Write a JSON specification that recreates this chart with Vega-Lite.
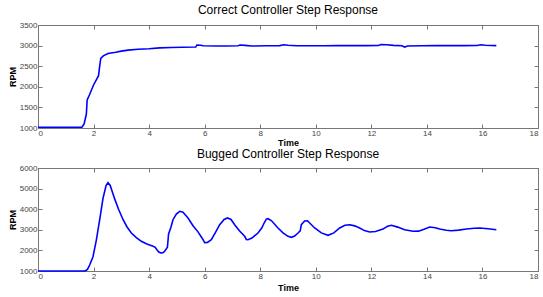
{
  "$schema": "https://vega.github.io/schema/vega-lite/v6.json",
  "padding": {"left": 7, "top": 3, "right": 5, "bottom": 3},
  "background": "white",
  "bounds": "flush",
  "spacing": 40,
  "config": {
    "view": {"stroke": "#777777", "strokeWidth": 1},
    "axis": {"labelFont": "Liberation Sans", "labelFontSize": 8, "labelColor": "#444444", "tickColor": "#777777", "tickSize": -4, "labelPadding": 5, "domain": false, "grid": false, "titleFont": "Liberation Sans", "titleFontSize": 9, "titleFontWeight": "bold", "titleColor": "#000000", "format": "d"},
    "title": {"font": "Liberation Sans", "fontSize": 12, "fontWeight": "normal", "color": "#000000", "offset": 4}
  },
  "datasets": {
    "correct": [
      {"t": 0, "rpm": 1020}, {"t": 1.58, "rpm": 1020}, {"t": 1.66, "rpm": 1100}, {"t": 1.74, "rpm": 1333}, {"t": 1.77, "rpm": 1680}, {"t": 1.85, "rpm": 1800}, {"t": 2.0, "rpm": 2044}, {"t": 2.18, "rpm": 2270}, {"t": 2.22, "rpm": 2500}, {"t": 2.26, "rpm": 2690}, {"t": 2.35, "rpm": 2750}, {"t": 2.52, "rpm": 2810}, {"t": 2.8, "rpm": 2840}, {"t": 3.0, "rpm": 2865}, {"t": 3.24, "rpm": 2890}, {"t": 3.6, "rpm": 2910}, {"t": 4.0, "rpm": 2925}, {"t": 4.38, "rpm": 2945}, {"t": 4.8, "rpm": 2955}, {"t": 5.2, "rpm": 2960}, {"t": 5.68, "rpm": 2965}, {"t": 5.72, "rpm": 3015}, {"t": 5.85, "rpm": 3010}, {"t": 5.95, "rpm": 2995}, {"t": 6.4, "rpm": 2990}, {"t": 6.8, "rpm": 2992}, {"t": 7.2, "rpm": 2995}, {"t": 7.28, "rpm": 3015}, {"t": 7.45, "rpm": 3005}, {"t": 7.7, "rpm": 2990}, {"t": 8.2, "rpm": 2995}, {"t": 8.7, "rpm": 3000}, {"t": 8.85, "rpm": 3020}, {"t": 9.0, "rpm": 3010}, {"t": 9.3, "rpm": 2995}, {"t": 9.8, "rpm": 2998}, {"t": 10.3, "rpm": 2998}, {"t": 10.8, "rpm": 3000}, {"t": 11.3, "rpm": 3000}, {"t": 11.8, "rpm": 3000}, {"t": 12.25, "rpm": 3002}, {"t": 12.35, "rpm": 3025}, {"t": 12.55, "rpm": 3020}, {"t": 12.8, "rpm": 3005}, {"t": 13.1, "rpm": 2995}, {"t": 13.2, "rpm": 2965}, {"t": 13.3, "rpm": 2990}, {"t": 13.8, "rpm": 2998}, {"t": 14.3, "rpm": 3000}, {"t": 14.8, "rpm": 3000}, {"t": 15.3, "rpm": 3000}, {"t": 15.8, "rpm": 3002}, {"t": 15.95, "rpm": 3022}, {"t": 16.1, "rpm": 3008}, {"t": 16.5, "rpm": 3000}
    ],
    "bugged": [
      {"t": 0, "rpm": 1000}, {"t": 1.7, "rpm": 1000}, {"t": 1.78, "rpm": 1080}, {"t": 1.86, "rpm": 1290}, {"t": 1.98, "rpm": 1694}, {"t": 2.1, "rpm": 2500}, {"t": 2.22, "rpm": 3476}, {"t": 2.34, "rpm": 4530}, {"t": 2.45, "rpm": 5150}, {"t": 2.52, "rpm": 5286}, {"t": 2.6, "rpm": 5150}, {"t": 2.76, "rpm": 4500}, {"t": 2.9, "rpm": 4000}, {"t": 3.06, "rpm": 3500}, {"t": 3.2, "rpm": 3150}, {"t": 3.36, "rpm": 2845}, {"t": 3.54, "rpm": 2620}, {"t": 3.72, "rpm": 2442}, {"t": 3.9, "rpm": 2320}, {"t": 4.14, "rpm": 2199}, {"t": 4.22, "rpm": 2150}, {"t": 4.28, "rpm": 2036}, {"t": 4.35, "rpm": 1920}, {"t": 4.42, "rpm": 1874}, {"t": 4.5, "rpm": 1890}, {"t": 4.56, "rpm": 1956}, {"t": 4.66, "rpm": 2150}, {"t": 4.7, "rpm": 2800}, {"t": 4.78, "rpm": 3100}, {"t": 4.86, "rpm": 3490}, {"t": 4.98, "rpm": 3760}, {"t": 5.1, "rpm": 3898}, {"t": 5.22, "rpm": 3850}, {"t": 5.4, "rpm": 3573}, {"t": 5.58, "rpm": 3200}, {"t": 5.76, "rpm": 2900}, {"t": 5.88, "rpm": 2650}, {"t": 5.94, "rpm": 2520}, {"t": 6.0, "rpm": 2380}, {"t": 6.1, "rpm": 2390}, {"t": 6.24, "rpm": 2520}, {"t": 6.4, "rpm": 2900}, {"t": 6.54, "rpm": 3248}, {"t": 6.7, "rpm": 3500}, {"t": 6.82, "rpm": 3573}, {"t": 6.95, "rpm": 3500}, {"t": 7.08, "rpm": 3248}, {"t": 7.25, "rpm": 2950}, {"t": 7.44, "rpm": 2684}, {"t": 7.5, "rpm": 2530}, {"t": 7.56, "rpm": 2520}, {"t": 7.7, "rpm": 2600}, {"t": 7.92, "rpm": 2845}, {"t": 8.06, "rpm": 3100}, {"t": 8.14, "rpm": 3330}, {"t": 8.22, "rpm": 3520}, {"t": 8.28, "rpm": 3540}, {"t": 8.4, "rpm": 3450}, {"t": 8.64, "rpm": 3087}, {"t": 8.82, "rpm": 2850}, {"t": 9.0, "rpm": 2684}, {"t": 9.12, "rpm": 2636}, {"t": 9.24, "rpm": 2700}, {"t": 9.36, "rpm": 2845}, {"t": 9.44, "rpm": 2950}, {"t": 9.48, "rpm": 3250}, {"t": 9.6, "rpm": 3430}, {"t": 9.7, "rpm": 3440}, {"t": 9.96, "rpm": 3087}, {"t": 10.2, "rpm": 2850}, {"t": 10.44, "rpm": 2733}, {"t": 10.65, "rpm": 2850}, {"t": 10.86, "rpm": 3087}, {"t": 11.05, "rpm": 3220}, {"t": 11.22, "rpm": 3248}, {"t": 11.4, "rpm": 3190}, {"t": 11.58, "rpm": 3087}, {"t": 11.75, "rpm": 2960}, {"t": 11.94, "rpm": 2893}, {"t": 12.15, "rpm": 2920}, {"t": 12.42, "rpm": 3039}, {"t": 12.52, "rpm": 3120}, {"t": 12.58, "rpm": 3170}, {"t": 12.72, "rpm": 3218}, {"t": 12.95, "rpm": 3130}, {"t": 13.2, "rpm": 3005}, {"t": 13.5, "rpm": 2927}, {"t": 13.7, "rpm": 2935}, {"t": 13.9, "rpm": 3030}, {"t": 14.1, "rpm": 3136}, {"t": 14.3, "rpm": 3100}, {"t": 14.46, "rpm": 3039}, {"t": 14.7, "rpm": 2980}, {"t": 14.88, "rpm": 2957}, {"t": 15.15, "rpm": 2985}, {"t": 15.42, "rpm": 3039}, {"t": 15.7, "rpm": 3075}, {"t": 15.9, "rpm": 3087}, {"t": 16.2, "rpm": 3050}, {"t": 16.5, "rpm": 3005}
    ]
  },
  "vconcat": [
    {
      "title": "Correct Controller Step Response",
      "width": 500,
      "height": 103,
      "data": {"name": "correct"},
      "resolve": {"axis": {"x": "independent", "y": "independent"}},
      "layer": [
        {
          "mark": {"type": "line", "color": "#0000ff", "strokeWidth": 1.6},
          "encoding": {
            "x": {"field": "t", "type": "quantitative", "scale": {"domain": [0, 18], "nice": false}, "axis": {"orient": "bottom", "values": [0, 2, 4, 6, 8, 10, 12, 14, 16, 18], "title": "Time", "titlePadding": 1}},
            "y": {"field": "rpm", "type": "quantitative", "scale": {"domain": [1000, 3500], "nice": false, "zero": false}, "axis": {"orient": "left", "values": [1000, 1500, 2000, 2500, 3000, 3500], "title": "RPM", "titlePadding": 2}}
          }
        },
        {
          "mark": {"type": "line", "strokeOpacity": 0},
          "encoding": {
            "x": {"field": "t", "type": "quantitative", "scale": {"domain": [0, 18], "nice": false}, "axis": {"orient": "top", "values": [0, 2, 4, 6, 8, 10, 12, 14, 16, 18], "labels": false, "title": null}},
            "y": {"field": "rpm", "type": "quantitative", "scale": {"domain": [1000, 3500], "nice": false, "zero": false}, "axis": {"orient": "right", "values": [1000, 1500, 2000, 2500, 3000, 3500], "labels": false, "title": null}}
          }
        }
      ]
    },
    {
      "title": {"text": "Bugged Controller Step Response", "offset": 3},
      "width": 500,
      "height": 103,
      "data": {"name": "bugged"},
      "resolve": {"axis": {"x": "independent", "y": "independent"}},
      "layer": [
        {
          "mark": {"type": "line", "color": "#0000ff", "strokeWidth": 1.6},
          "encoding": {
            "x": {"field": "t", "type": "quantitative", "scale": {"domain": [0, 18], "nice": false}, "axis": {"orient": "bottom", "values": [0, 2, 4, 6, 8, 10, 12, 14, 16, 18], "title": "Time", "titlePadding": 3}},
            "y": {"field": "rpm", "type": "quantitative", "scale": {"domain": [1000, 6000], "nice": false, "zero": false}, "axis": {"orient": "left", "values": [1000, 2000, 3000, 4000, 5000, 6000], "title": "RPM", "titlePadding": 2}}
          }
        },
        {
          "mark": {"type": "line", "strokeOpacity": 0},
          "encoding": {
            "x": {"field": "t", "type": "quantitative", "scale": {"domain": [0, 18], "nice": false}, "axis": {"orient": "top", "values": [0, 2, 4, 6, 8, 10, 12, 14, 16, 18], "labels": false, "title": null}},
            "y": {"field": "rpm", "type": "quantitative", "scale": {"domain": [1000, 6000], "nice": false, "zero": false}, "axis": {"orient": "right", "values": [1000, 2000, 3000, 4000, 5000, 6000], "labels": false, "title": null}}
          }
        }
      ]
    }
  ]
}
